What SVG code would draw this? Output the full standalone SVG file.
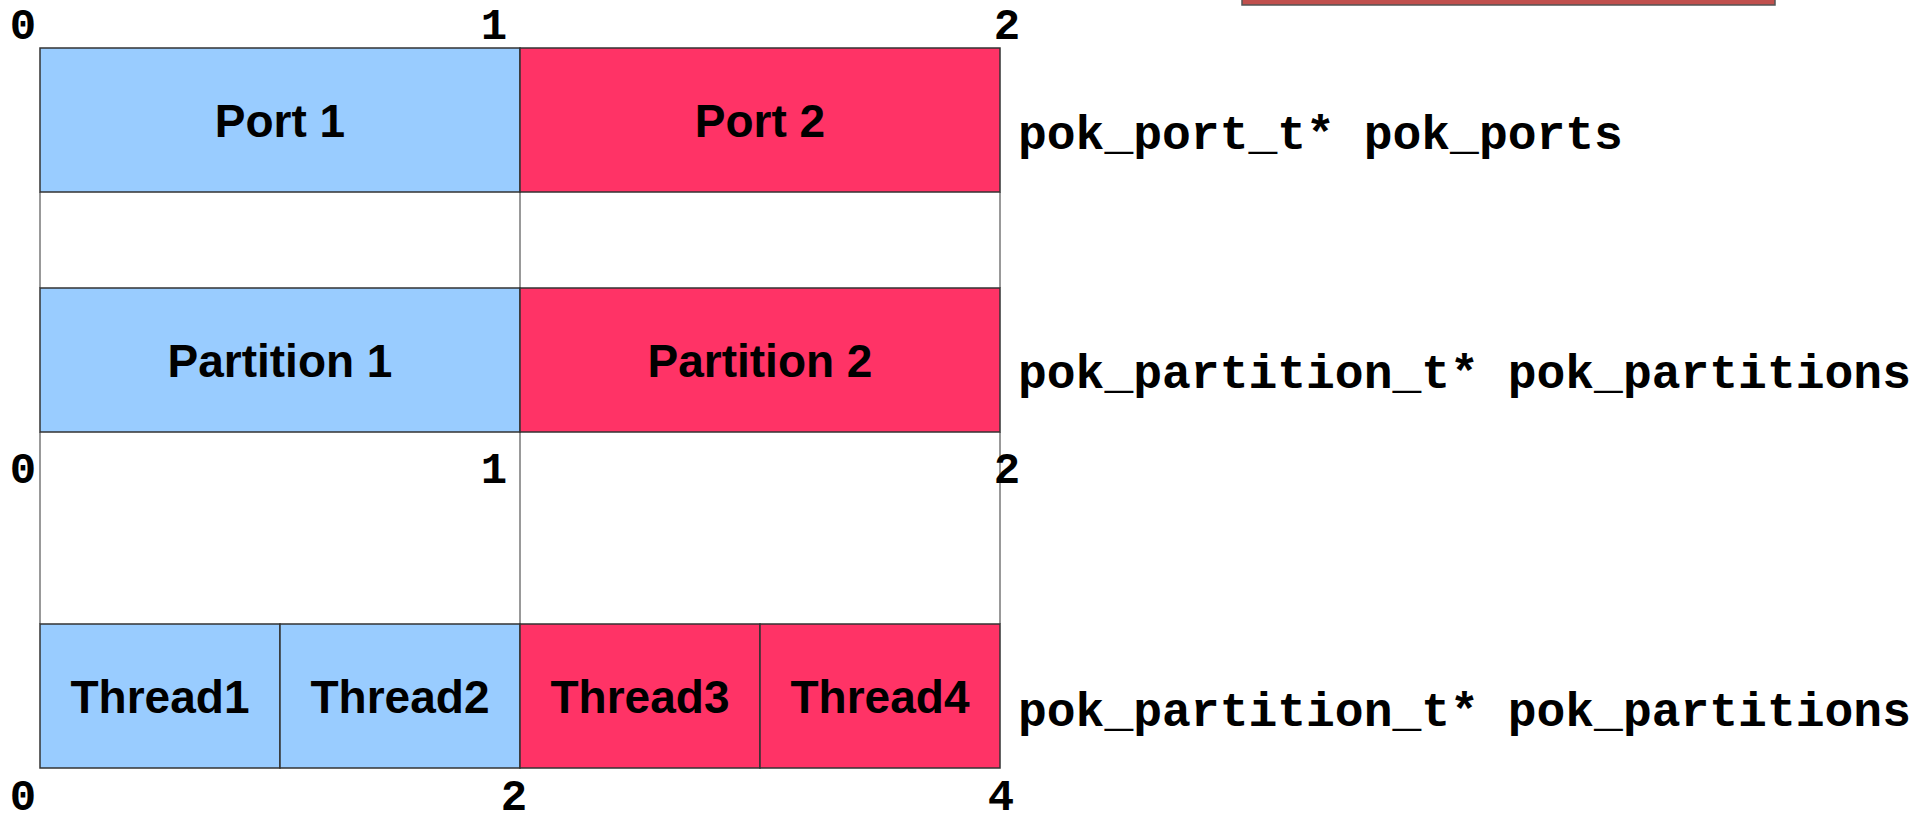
<svg xmlns="http://www.w3.org/2000/svg" width="1928" height="820" viewBox="0 0 1928 820">
  <style>
    .blue { fill: #99ccff; stroke: #333333; stroke-width: 1.5; }
    .red { fill: #ff3366; stroke: #333333; stroke-width: 1.5; }
    .lbl { font-family: "Liberation Sans", Arial, sans-serif; font-weight: bold; font-size: 46px; fill: #000; text-anchor: middle; }
    .idx { font-family: "Liberation Mono", "Courier New", monospace; font-weight: bold; font-size: 44px; fill: #000; text-anchor: middle; }
    .code { font-family: "Liberation Mono", "Courier New", monospace; font-weight: bold; font-size: 48px; fill: #000; }
    .guide { stroke: #777777; stroke-width: 1.5; fill: none; }
  </style>
  <rect x="0" y="0" width="1928" height="820" fill="#ffffff"/>

  <!-- partially visible box at the top edge -->
  <g id="top-box">
    <rect x="1242" y="-12" width="533" height="17" fill="#c0504d" stroke="#555555" stroke-width="1.5"/>
  </g>

  <!-- vertical guides joining the array boundaries -->
  <g id="connectors">
    <line class="guide" x1="40" y1="192" x2="40" y2="288"/>
    <line class="guide" x1="520" y1="192" x2="520" y2="288"/>
    <line class="guide" x1="1000" y1="192" x2="1000" y2="288"/>
    <line class="guide" x1="40" y1="432" x2="40" y2="624"/>
    <line class="guide" x1="520" y1="432" x2="520" y2="624"/>
    <line class="guide" x1="1000" y1="432" x2="1000" y2="624"/>
  </g>

  <!-- index marks -->
  <g id="indices">
    <text class="idx" x="23" y="39">0</text>
    <text class="idx" x="494" y="39">1</text>
    <text class="idx" x="1007" y="39">2</text>
    <text class="idx" x="23" y="483">0</text>
    <text class="idx" x="494" y="483">1</text>
    <text class="idx" x="1007" y="483">2</text>
    <text class="idx" x="23" y="810">0</text>
    <text class="idx" x="514" y="810">2</text>
    <text class="idx" x="1001" y="810">4</text>
  </g>

  <!-- ports array -->
  <g id="port1">
    <rect class="blue" x="40" y="48" width="480" height="144"/>
    <text class="lbl" x="280" y="136.5">Port 1</text>
  </g>
  <g id="port2">
    <rect class="red" x="520" y="48" width="480" height="144"/>
    <text class="lbl" x="760" y="136.5">Port 2</text>
  </g>
  <g id="ports-label">
    <text class="code" x="1018" y="149">pok_port_t* pok_ports</text>
  </g>

  <!-- partitions array -->
  <g id="partition1">
    <rect class="blue" x="40" y="288" width="480" height="144"/>
    <text class="lbl" x="280" y="376.5">Partition 1</text>
  </g>
  <g id="partition2">
    <rect class="red" x="520" y="288" width="480" height="144"/>
    <text class="lbl" x="760" y="376.5">Partition 2</text>
  </g>
  <g id="partitions-label">
    <text class="code" x="1018" y="388">pok_partition_t* pok_partitions</text>
  </g>

  <!-- threads array -->
  <g id="thread1">
    <rect class="blue" x="40" y="624" width="240" height="144"/>
    <text class="lbl" x="160" y="712.5">Thread1</text>
  </g>
  <g id="thread2">
    <rect class="blue" x="280" y="624" width="240" height="144"/>
    <text class="lbl" x="400" y="712.5">Thread2</text>
  </g>
  <g id="thread3">
    <rect class="red" x="520" y="624" width="240" height="144"/>
    <text class="lbl" x="640" y="712.5">Thread3</text>
  </g>
  <g id="thread4">
    <rect class="red" x="760" y="624" width="240" height="144"/>
    <text class="lbl" x="880" y="712.5">Thread4</text>
  </g>
  <g id="threads-label">
    <text class="code" x="1018" y="726">pok_partition_t* pok_partitions</text>
  </g>
</svg>
